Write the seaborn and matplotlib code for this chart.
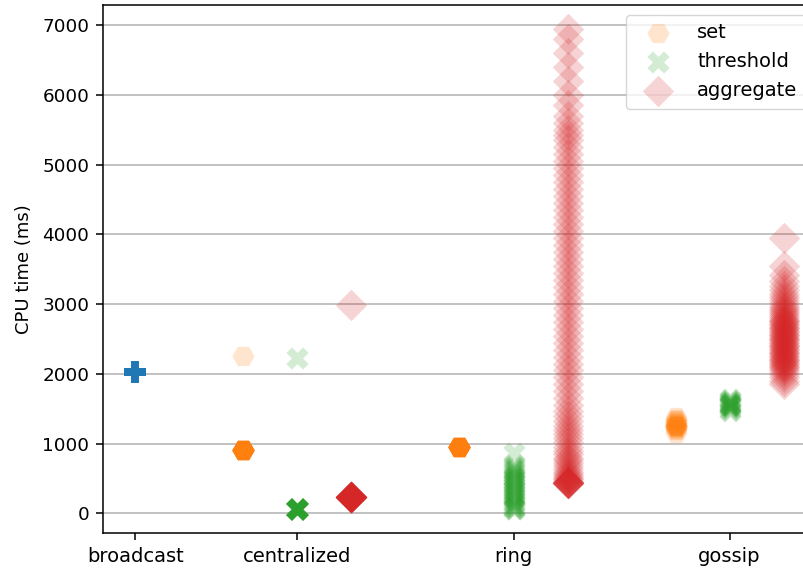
import numpy as np
import pandas as pd
import matplotlib
matplotlib.use("Agg")
import matplotlib.pyplot as plt
import seaborn as sns

# ---------------- data (CPU time in ms) ----------------
protocols = ["broadcast", "centralized", "ring", "gossip"]
kinds = ["set", "threshold", "aggregate"]

broadcast_values = [2030]
broadcast_counts = [20]

centralized_set_values = [2260, 910]
centralized_set_counts = [1, 20]
centralized_threshold_values = [2230, 60]
centralized_threshold_counts = [1, 20]
centralized_aggregate_values = [2990, 240]
centralized_aggregate_counts = [1, 20]

ring_set_values = [950]
ring_set_counts = [21]
ring_threshold_values = [860, 690, 670, 650, 630, 610, 590, 570, 550, 530, 510,
                         490, 470, 450, 430, 410, 390, 370, 350, 330, 310, 290,
                         270, 250, 230, 210, 190, 170, 150, 130, 110, 95, 80,
                         70, 60]
ring_aggregate_values = [6950, 6800, 6600, 6400, 6200, 6000, 5850, 5700, 5600,
                         5500, 5420, 5350, 5250, 5150, 5050, 4950, 4850, 4750,
                         4650, 4550, 4450, 4350, 4250, 4150, 4050, 3950, 3850,
                         3750, 3650, 3550, 3450, 3350, 3250, 3150, 3050, 2950,
                         2850, 2750, 2650, 2550, 2450, 2350, 2250, 2150, 2050,
                         1950, 1850, 1750, 1650, 1550, 1470, 1400, 1330, 1260,
                         1200, 1140, 1080, 1020, 960, 900, 850, 800, 760, 720,
                         680, 640, 600, 570, 540, 510, 490, 470, 450, 440, 430,
                         430, 430, 430, 430, 430, 430]

gossip_set_values = [1160, 1190, 1210, 1230, 1240, 1250, 1260, 1270, 1280,
                     1290, 1300, 1320, 1340, 1360, 1380, 1260, 1250]
gossip_threshold_values = [1475, 1490, 1510, 1530, 1540, 1550, 1560, 1570,
                           1580, 1590, 1600, 1610, 1625, 1645, 1560, 1550]
gossip_aggregate_values = [3950, 3550, 3420, 3330, 3260, 3200, 3150, 3100,
                           3060, 3020, 2980, 2950, 2920, 2890, 2860, 2830,
                           2800, 2780, 2760, 2740, 2720, 2700, 2680, 2660,
                           2640, 2620, 2600, 2580, 2560, 2540, 2520, 2500,
                           2480, 2460, 2440, 2420, 2400, 2380, 2360, 2340,
                           2320, 2300, 2280, 2260, 2240, 2220, 2200, 2180,
                           2160, 2140, 2120, 2100, 2070, 2040, 2000, 1950,
                           1900, 1850]

# ---------------- build a long table ----------------
rows = []
def add(protocol, kind, values, counts=None):
    vals = np.repeat(values, counts) if counts is not None else values
    for v in vals:
        rows.append((protocol, kind, float(v)))

add("broadcast", "broadcast", broadcast_values, broadcast_counts)
add("centralized", "set", centralized_set_values, centralized_set_counts)
add("centralized", "threshold", centralized_threshold_values, centralized_threshold_counts)
add("centralized", "aggregate", centralized_aggregate_values, centralized_aggregate_counts)
add("ring", "set", ring_set_values, ring_set_counts)
add("ring", "threshold", ring_threshold_values)
add("ring", "aggregate", ring_aggregate_values)
add("gossip", "set", gossip_set_values)
add("gossip", "threshold", gossip_threshold_values)
add("gossip", "aggregate", gossip_aggregate_values)
df = pd.DataFrame(rows, columns=["protocol", "kind", "cpu_ms"])

# slot layout: broadcast has one slot, the others three (one per kind), gap of one slot
centers = {}
pos = 0
slot = {}
for p in protocols:
    ks = ["broadcast"] if p == "broadcast" else kinds
    for i, k in enumerate(ks):
        slot[(p, k)] = pos + i
    centers[p] = pos + (len(ks) - 1) / 2
    pos += len(ks) + 1
df["x"] = [slot[(p, k)] for p, k in zip(df["protocol"], df["kind"])]

# ---------------- plot ----------------
sns.set_style("ticks")
plt.rcParams["font.family"] = ["DejaVu Sans"]
for key in ["text.color", "axes.labelcolor", "xtick.color", "ytick.color",
            "axes.edgecolor"]:
    plt.rcParams[key] = "black"
plt.rcParams["axes.linewidth"] = 1.1
plt.rcParams["xtick.major.width"] = 1.1
plt.rcParams["ytick.major.width"] = 1.1
plt.rcParams["xtick.major.size"] = 4.9
plt.rcParams["ytick.major.size"] = 4.9
plt.rcParams["xtick.major.pad"] = 4.9
plt.rcParams["ytick.major.pad"] = 4.9

fig = plt.figure(figsize=(8.04, 5.74), dpi=100)
ax = fig.add_axes([103 / 804, 41 / 574, 713 / 804, 528 / 574])

colors = {"broadcast": "#1f77b4", "set": "#ff7f0e", "threshold": "#2ca02c",
          "aggregate": "#d62728"}
markers = {"broadcast": "P", "set": "H", "threshold": "X", "aggregate": "D"}

ax.set_axisbelow(True)
ax.yaxis.grid(True, color="#b0b0b0", linewidth=1.1)

sub = df[df["kind"] == "broadcast"]
sns.scatterplot(data=sub, x="x", y="cpu_ms", ax=ax, color=colors["broadcast"],
                marker=markers["broadcast"], s=256, alpha=0.2, linewidth=0,
                legend=False)
for k in kinds:
    sub = df[df["kind"] == k]
    sns.scatterplot(data=sub, x="x", y="cpu_ms", ax=ax, color=colors[k],
                    marker=markers[k], s=256, alpha=0.2, linewidth=0,
                    legend=False, label=k)

ax.set_xlim(-0.6, 12.6)
ax.set_ylim(-280, 7290)
ax.set_xticks([centers[p] for p in protocols])
ax.set_xticklabels(protocols)
ax.set_yticks(np.arange(0, 7001, 1000))
ax.tick_params(axis="x", labelsize=14)
ax.tick_params(axis="y", labelsize=13.2)
ax.set_xlabel("")
ax.set_ylabel("CPU time (ms)", fontsize=13, labelpad=7)

leg = ax.legend(loc="upper right", fontsize=14, frameon=True,
                handlelength=2.4, borderpad=0.45)

fig.savefig("out.png", dpi=100)
